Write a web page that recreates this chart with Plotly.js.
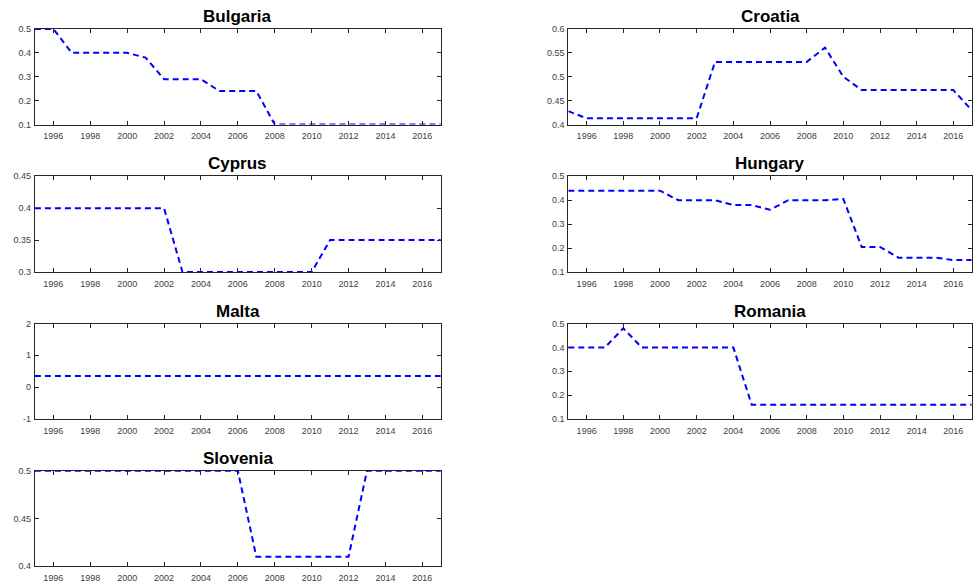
<!DOCTYPE html>
<html>
<head>
<meta charset="utf-8">
<script src="https://cdn.plot.ly/plotly-3.0.1.min.js"></script>
<style>
html,body{margin:0;padding:0;background:#fff;}
#chart{width:973px;height:584px;}
</style>
</head>
<body>
<div id="chart"></div>
<script>
const years = [1995,1996,1997,1998,1999,2000,2001,2002,2003,2004,2005,2006,2007,2008,2009,2010,2011,2012,2013,2014,2015,2016,2017];
const bulgaria = [0.5,0.5,0.4,0.4,0.4,0.4,0.38,0.29,0.29,0.29,0.24,0.24,0.24,0.1,0.1,0.1,0.1,0.1,0.1,0.1,0.1,0.1,0.1];
const croatia  = [0.428,0.413,0.413,0.413,0.413,0.413,0.413,0.413,0.531,0.531,0.531,0.531,0.531,0.531,0.561,0.5,0.472,0.472,0.472,0.472,0.472,0.472,0.43];
const cyprus   = [0.4,0.4,0.4,0.4,0.4,0.4,0.4,0.4,0.3,0.3,0.3,0.3,0.3,0.3,0.3,0.3,0.35,0.35,0.35,0.35,0.35,0.35,0.35];
const hungary  = [0.44,0.44,0.44,0.44,0.44,0.44,0.4,0.4,0.4,0.38,0.38,0.36,0.4,0.4,0.4,0.405,0.205,0.205,0.16,0.16,0.16,0.15,0.15];
const malta    = [0.35,0.35,0.35,0.35,0.35,0.35,0.35,0.35,0.35,0.35,0.35,0.35,0.35,0.35,0.35,0.35,0.35,0.35,0.35,0.35,0.35,0.35,0.35];
const romania  = [0.4,0.4,0.4,0.48,0.4,0.4,0.4,0.4,0.4,0.4,0.16,0.16,0.16,0.16,0.16,0.16,0.16,0.16,0.16,0.16,0.16,0.16,0.16];
const slovenia = [0.5,0.5,0.5,0.5,0.5,0.5,0.5,0.5,0.5,0.5,0.5,0.5,0.41,0.41,0.41,0.41,0.41,0.41,0.5,0.5,0.5,0.5,0.5];

const countries = ['Bulgaria','Croatia','Cyprus','Hungary','Malta','Romania','Slovenia'];
const seriesList = [bulgaria, croatia, cyprus, hungary, malta, romania, slovenia];
const yRanges = [[0.1,0.5],[0.4,0.6],[0.3,0.45],[0.1,0.5],[-1,2],[0.1,0.5],[0.4,0.5]];
const yDticks = [0.1,0.05,0.05,0.1,1,0.1,0.05];
const xTickVals = [1996,1998,2000,2002,2004,2006,2008,2010,2012,2014,2016];
const maltaTickVals = [-1,0,1,2];
const maltaTickText = ['-1','0','1','2'];

const W = 973, H = 584;
const colX = [[34.9,440.8],[568.3,971.7]];
const rowY = [[29,124.5],[176.3,272],[323.5,419],[470.7,566.3]];

const data = [];
const layout = {
  width: W, height: H,
  margin: {l:0,r:0,t:0,b:0},
  paper_bgcolor: '#fff', plot_bgcolor: '#fff',
  showlegend: false,
  font: {family: 'Liberation Sans, Arial, sans-serif', size: 9, color: '#404040'},
  annotations: []
};

countries.forEach((name, i) => {
  const col = i % 2, row = Math.floor(i / 2);
  const n = i + 1;
  const xa = 'xaxis' + (n === 1 ? '' : n), ya = 'yaxis' + (n === 1 ? '' : n);
  const xd = [colX[col][0]/W, colX[col][1]/W];
  const yd = [1 - rowY[row][1]/H, 1 - rowY[row][0]/H];
  data.push({
    x: years, y: seriesList[i],
    xaxis: 'x' + (n === 1 ? '' : n), yaxis: 'y' + (n === 1 ? '' : n),
    type: 'scatter', mode: 'lines',
    line: {color: '#0000ff', width: 2, dash: '6px,4px'},
    hoverinfo: 'skip'
  });
  const common = {
    showline: true, mirror: 'ticks', linecolor: '#262626', linewidth: 1,
    ticks: 'inside', ticklen: 4, tickwidth: 1, tickcolor: '#262626',
    showgrid: false, zeroline: false, fixedrange: true, layer: 'below traces',
    tickfont: {family: 'Liberation Sans, Arial, sans-serif', size: 9, color: '#404040'}
  };
  layout[xa] = Object.assign({}, common, {
    domain: xd, range: [1995, 2017], tickmode: 'array', tickvals: xTickVals,
    anchor: 'y' + (n === 1 ? '' : n), ticklabelstandoff: 3
  });
  const yax = Object.assign({}, common, {
    domain: yd, range: yRanges[i], tick0: yRanges[i][0], dtick: yDticks[i],
    anchor: 'x' + (n === 1 ? '' : n), ticklabelstandoff: 1
  });
  if (name === 'Malta') {
    yax.tickmode = 'array'; yax.tickvals = maltaTickVals; yax.ticktext = maltaTickText;
  }
  layout[ya] = yax;
  layout.annotations.push({
    text: '<b>' + name + '</b>', xref: 'paper', yref: 'paper',
    x: (xd[0] + xd[1]) / 2, y: yd[1], xanchor: 'center', yanchor: 'bottom',
    yshift: 1, showarrow: false,
    font: {family: 'Liberation Sans, Arial, sans-serif', size: 17, color: '#000'}
  });
});

Plotly.newPlot('chart', data, layout, {staticPlot: true, displayModeBar: false});
</script>
</body>
</html>
